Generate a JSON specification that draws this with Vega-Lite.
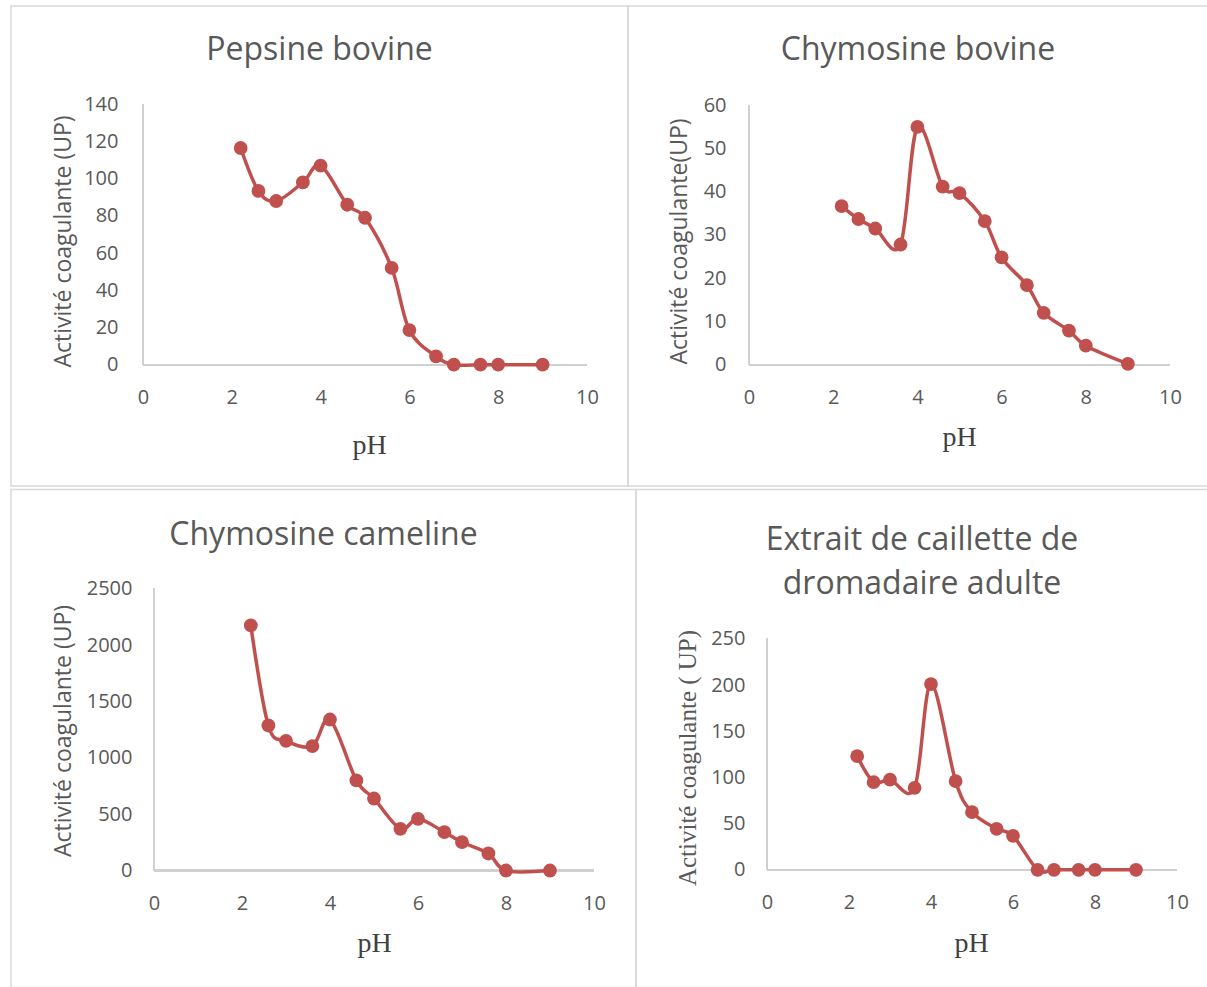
{
  "$schema": "https://vega.github.io/schema/vega-lite/v6.json",
  "background": "white",
  "padding": {"left": 10, "top": 5, "right": 0, "bottom": 0},
  "spacing": 1.5,
  "config": {
    "view": {"stroke": "#d9d9d9", "strokeWidth": 1.5},
    "axis": {
      "domain": false, "ticks": false, "tickSize": 0, "grid": false,
      "labelFont": "Open Sans", "labelFontSize": 20, "labelColor": "#595959",
      "titleColor": "#595959", "titleFontWeight": "normal",
      "labelFlush": false, "labelOverlap": false, "format": "d"
    },
    "title": {"font": "Open Sans", "fontSize": 32, "fontWeight": "normal", "color": "#595959", "anchor": "middle", "frame": "group"}
  },
  "datasets": {
    "pepsine": [
      {"pH": 2.2, "UP": 116.5}, {"pH": 2.6, "UP": 93.4}, {"pH": 3.0, "UP": 88}, {"pH": 3.6, "UP": 98},
      {"pH": 4.0, "UP": 107}, {"pH": 4.6, "UP": 86}, {"pH": 5.0, "UP": 79}, {"pH": 5.6, "UP": 52},
      {"pH": 6.0, "UP": 18.6}, {"pH": 6.6, "UP": 4.5}, {"pH": 7.0, "UP": 0}, {"pH": 7.6, "UP": 0},
      {"pH": 8.0, "UP": 0}, {"pH": 9.0, "UP": 0}
    ],
    "chymosine_bovine": [
      {"pH": 2.2, "UP": 36.7}, {"pH": 2.6, "UP": 33.7}, {"pH": 3.0, "UP": 31.5}, {"pH": 3.6, "UP": 27.8},
      {"pH": 4.0, "UP": 55}, {"pH": 4.6, "UP": 41.2}, {"pH": 5.0, "UP": 39.7}, {"pH": 5.6, "UP": 33.2},
      {"pH": 6.0, "UP": 24.8}, {"pH": 6.6, "UP": 18.4}, {"pH": 7.0, "UP": 12}, {"pH": 7.6, "UP": 7.9},
      {"pH": 8.0, "UP": 4.4}, {"pH": 9.0, "UP": 0.2}
    ],
    "chymosine_cameline": [
      {"pH": 2.2, "UP": 2175}, {"pH": 2.6, "UP": 1287}, {"pH": 3.0, "UP": 1151}, {"pH": 3.6, "UP": 1104},
      {"pH": 4.0, "UP": 1340}, {"pH": 4.6, "UP": 799}, {"pH": 5.0, "UP": 639}, {"pH": 5.6, "UP": 370},
      {"pH": 6.0, "UP": 459}, {"pH": 6.6, "UP": 340}, {"pH": 7.0, "UP": 251}, {"pH": 7.6, "UP": 151},
      {"pH": 8.0, "UP": 0}, {"pH": 9.0, "UP": 0}
    ],
    "extrait": [
      {"pH": 2.2, "UP": 123}, {"pH": 2.6, "UP": 95}, {"pH": 3.0, "UP": 97.5}, {"pH": 3.6, "UP": 88.7},
      {"pH": 4.0, "UP": 201}, {"pH": 4.6, "UP": 96}, {"pH": 5.0, "UP": 62.4}, {"pH": 5.6, "UP": 44.4},
      {"pH": 6.0, "UP": 36.8}, {"pH": 6.6, "UP": 0}, {"pH": 7.0, "UP": 0}, {"pH": 7.6, "UP": 0},
      {"pH": 8.0, "UP": 0}, {"pH": 9.0, "UP": 0}
    ]
  },
  "vconcat": [
    {
      "bounds": "flush",
      "spacing": 0,
      "hconcat": [
        {
          "width": 617, "height": 480,
          "title": {"text": "Pepsine bovine", "offset": -61},
          "data": {"name": "pepsine"},
          "encoding": {
            "x": {"field": "pH", "type": "quantitative",
              "scale": {"domain": [-2.973, 10.923], "nice": false, "zero": false},
              "axis": {"title": "pH", "offset": -121.3, "values": [0, 2, 4, 6, 8, 10], "labelPadding": 23,
                "titleFont": "Liberation Serif", "titleFontSize": 28, "titleColor": "#404040", "titleX": 358, "titleY": 89,
                "titleBaseline": "alphabetic", "titleAlign": "center"}},
            "y": {"field": "UP", "type": "quantitative",
              "scale": {"domain": [-65.22, 192.85], "nice": false, "zero": false},
              "axis": {"title": "Activité coagulante (UP)", "offset": -132, "values": [0, 20, 40, 60, 80, 100, 120, 140], "labelPadding": 25,
                "titleFont": "Open Sans", "titleFontSize": 23, "titleX": -80, "titleY": 235,
                "titleBaseline": "middle", "titleAlign": "center", "titleAngle": -90}}
          },
          "layer": [
            {"mark": {"type": "rule", "color": "#d0d0d0", "strokeWidth": 1.5},
             "encoding": {"x": {"datum": 0, "type": "quantitative"}, "x2": {"datum": 10}, "y": {"datum": 0, "type": "quantitative"}}},
            {"mark": {"type": "rule", "color": "#d0d0d0", "strokeWidth": 1.5},
             "encoding": {"x": {"datum": 0, "type": "quantitative"}, "y": {"datum": 0, "type": "quantitative"}, "y2": {"datum": 140}}},
            {"mark": {"type": "line", "interpolate": "cardinal", "tension": 0, "color": "#c0504d", "strokeWidth": 3.5}},
            {"mark": {"type": "point", "filled": true, "size": 190, "color": "#c0504d", "opacity": 1}}
          ]
        },
        {
          "width": 580, "height": 480,
          "title": {"text": "Chymosine bovine", "offset": -61},
          "data": {"name": "chymosine_bovine"},
          "encoding": {
            "x": {"field": "pH", "type": "quantitative",
              "scale": {"domain": [-2.874, 10.903], "nice": false, "zero": false},
              "axis": {"title": "pH", "offset": -121.3, "values": [0, 2, 4, 6, 8, 10], "labelPadding": 23,
                "titleFont": "Liberation Serif", "titleFontSize": 28, "titleColor": "#404040", "titleX": 331, "titleY": 81,
                "titleBaseline": "alphabetic", "titleAlign": "center"}},
            "y": {"field": "UP", "type": "quantitative",
              "scale": {"domain": [-28.06, 82.97], "nice": false, "zero": false},
              "axis": {"title": "Activité coagulante(UP)", "offset": -121, "values": [0, 10, 20, 30, 40, 50, 60], "labelPadding": 23,
                "titleFont": "Open Sans", "titleFontSize": 23, "titleX": -70, "titleY": 235,
                "titleBaseline": "middle", "titleAlign": "center", "titleAngle": -90}}
          },
          "layer": [
            {"mark": {"type": "rule", "color": "#d0d0d0", "strokeWidth": 1.5},
             "encoding": {"x": {"datum": 0, "type": "quantitative"}, "x2": {"datum": 10}, "y": {"datum": 0, "type": "quantitative"}}},
            {"mark": {"type": "rule", "color": "#d0d0d0", "strokeWidth": 1.5},
             "encoding": {"x": {"datum": 0, "type": "quantitative"}, "y": {"datum": 0, "type": "quantitative"}, "y2": {"datum": 60}}},
            {"mark": {"type": "line", "interpolate": "cardinal", "tension": 0, "color": "#c0504d", "strokeWidth": 3.5}},
            {"mark": {"type": "point", "filled": true, "size": 190, "color": "#c0504d", "opacity": 1}}
          ]
        }
      ]
    },
    {
      "bounds": "flush",
      "spacing": 0,
      "hconcat": [
        {
          "width": 625, "height": 498,
          "title": {"text": "Chymosine cameline", "offset": -62},
          "data": {"name": "chymosine_cameline"},
          "encoding": {
            "x": {"field": "pH", "type": "quantitative",
              "scale": {"domain": [-3.25, 10.955], "nice": false, "zero": false},
              "axis": {"title": "pH", "offset": -117, "values": [0, 2, 4, 6, 8, 10], "labelPadding": 23,
                "titleFont": "Liberation Serif", "titleFontSize": 28, "titleColor": "#404040", "titleX": 363, "titleY": 81,
                "titleBaseline": "alphabetic", "titleAlign": "center"}},
            "y": {"field": "UP", "type": "quantitative",
              "scale": {"domain": [-1038.3, 3381.3], "nice": false, "zero": false},
              "axis": {"title": "Activité coagulante (UP)", "offset": -143, "values": [0, 500, 1000, 1500, 2000, 2500], "labelPadding": 22,
                "titleFont": "Open Sans", "titleFontSize": 23, "titleX": -91, "titleY": 241,
                "titleBaseline": "middle", "titleAlign": "center", "titleAngle": -90}}
          },
          "layer": [
            {"mark": {"type": "rule", "color": "#d0d0d0", "strokeWidth": 1.5},
             "encoding": {"x": {"datum": 0, "type": "quantitative"}, "x2": {"datum": 10}, "y": {"datum": 0, "type": "quantitative"}}},
            {"mark": {"type": "rule", "color": "#d0d0d0", "strokeWidth": 1.5},
             "encoding": {"x": {"datum": 0, "type": "quantitative"}, "y": {"datum": 0, "type": "quantitative"}, "y2": {"datum": 2500}}},
            {"mark": {"type": "line", "interpolate": "cardinal", "tension": 0, "color": "#c0504d", "strokeWidth": 3.5}},
            {"mark": {"type": "point", "filled": true, "size": 190, "color": "#c0504d", "opacity": 1}}
          ]
        },
        {
          "width": 572, "height": 498,
          "title": {"text": ["Extrait de caillette de", "dromadaire adulte"], "offset": -111, "lineHeight": 44},
          "data": {"name": "extrait"},
          "encoding": {
            "x": {"field": "pH", "type": "quantitative",
              "scale": {"domain": [-3.195, 10.756], "nice": false, "zero": false},
              "axis": {"title": "pH", "offset": -117.7, "values": [0, 2, 4, 6, 8, 10], "labelPadding": 23,
                "titleFont": "Liberation Serif", "titleFontSize": 28, "titleColor": "#404040", "titleX": 335, "titleY": 82,
                "titleBaseline": "alphabetic", "titleAlign": "center"}},
            "y": {"field": "UP", "type": "quantitative",
              "scale": {"domain": [-127.4, 411.6], "nice": false, "zero": false},
              "axis": {"title": "Activité coagulante ( UP)", "offset": -131, "values": [0, 50, 100, 150, 200, 250], "labelPadding": 22,
                "titleFont": "Liberation Serif", "titleFontSize": 25, "titleX": -80, "titleY": 268,
                "titleBaseline": "middle", "titleAlign": "center", "titleAngle": -90}}
          },
          "layer": [
            {"mark": {"type": "rule", "color": "#d0d0d0", "strokeWidth": 1.5},
             "encoding": {"x": {"datum": 0, "type": "quantitative"}, "x2": {"datum": 10}, "y": {"datum": 0, "type": "quantitative"}}},
            {"mark": {"type": "rule", "color": "#d0d0d0", "strokeWidth": 1.5},
             "encoding": {"x": {"datum": 0, "type": "quantitative"}, "y": {"datum": 0, "type": "quantitative"}, "y2": {"datum": 250}}},
            {"mark": {"type": "line", "interpolate": "cardinal", "tension": 0, "color": "#c0504d", "strokeWidth": 3.5}},
            {"mark": {"type": "point", "filled": true, "size": 190, "color": "#c0504d", "opacity": 1}}
          ]
        }
      ]
    }
  ]
}
